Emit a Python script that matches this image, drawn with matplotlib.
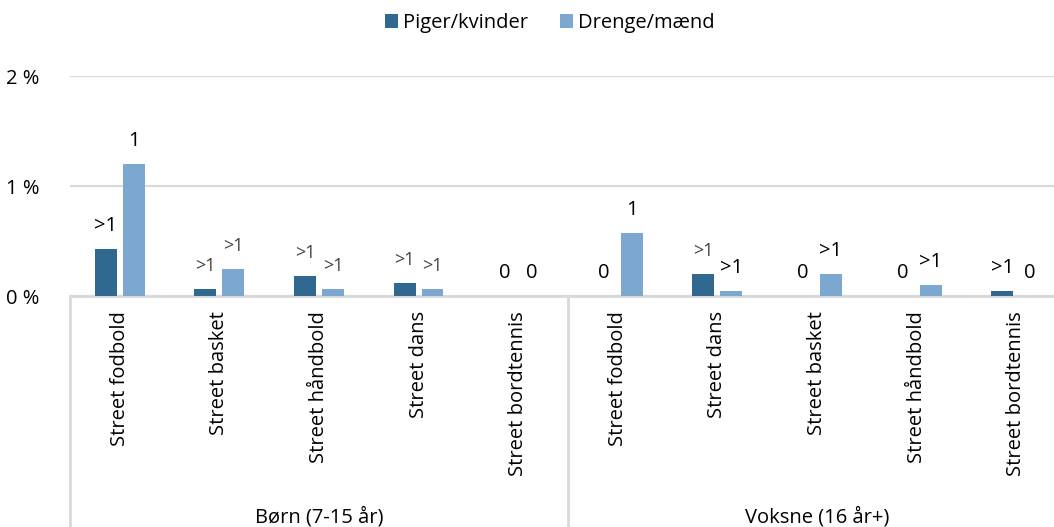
import matplotlib
matplotlib.use("Agg")
import matplotlib.pyplot as plt
from matplotlib.lines import Line2D
import numpy as np

plt.rcParams["font.family"] = ["Open Sans", "DejaVu Sans"]

# ── data ──────────────────────────────────────────────────────────────────────
GROUPS      = ["Børn (7-15 år)", "Voksne (16 år+)"]
CATS_BORN   = ["Street fodbold", "Street basket", "Street håndbold", "Street dans", "Street bordtennis"]
CATS_VOKSNE = ["Street fodbold", "Street dans", "Street basket", "Street håndbold", "Street bordtennis"]

PIGER  = [0.43, 0.06, 0.18, 0.12, 0.0,   0.0, 0.20, 0.0, 0.0, 0.05]
DRENGE = [1.20, 0.25, 0.06, 0.06, 0.0,   0.57, 0.05, 0.20, 0.10, 0.0]

PIGER_LBL  = [">1", ">1", ">1", ">1", "0",   "0", ">1", "0", "0", ">1"]
DRENGE_LBL = ["1", ">1", ">1", ">1", "0",    "1", ">1", ">1", ">1", "0"]
# True = label drawn in the larger black style, False = smaller grey style
PIGER_BIG  = [True, False, False, False, True,   True, False, True, True, True]
DRENGE_BIG = [True, False, False, False, True,   True, True, True, True, True]

YTICKS = [0, 1, 2]
YTICK_LBL = ["0 %", "1 %", "2 %"]

DARK  = "#31688F"
LIGHT = "#7BA7D0"
GRID  = "#D9D9D9"

# ── figure ────────────────────────────────────────────────────────────────────
W, H = 1054, 527
fig = plt.figure(figsize=(W / 100, H / 100), dpi=100)
ax_left, ax_right = 70, 1066          # plot area runs slightly past the image edge
ax_top, ax_bot = 76, 296
ax = fig.add_axes([ax_left / W, (H - ax_bot) / H,
                   (ax_right - ax_left) / W, (ax_bot - ax_top) / H])

cats = CATS_BORN + CATS_VOKSNE
x = np.arange(len(cats)) + 0.5
bw, off = 0.22, 0.14

ax.bar(x - off, PIGER, bw, color=DARK, zorder=3, label="Piger/kvinder")
ax.bar(x + off, DRENGE, bw, color=LIGHT, zorder=3, label="Drenge/mænd")

for xs, vals, lbls, bigs in [(x - off, PIGER, PIGER_LBL, PIGER_BIG),
                             (x + off, DRENGE, DRENGE_LBL, DRENGE_BIG)]:
    for xi, v, t, b in zip(xs, vals, lbls, bigs):
        ax.annotate(t, (xi, v), xytext=(0, 16.5), textcoords="offset points",
                    ha="center", va="center",
                    fontsize=14.5 if b else 13,
                    color="black" if b else "#404040")

ax.set_xlim(0, len(cats))
ax.set_ylim(0, 2)
ax.set_yticks(YTICKS)
ax.set_yticklabels(YTICK_LBL, fontsize=14.5)
ax.tick_params(axis="y", length=0, pad=22)
ax.yaxis.grid(True, color=GRID, linewidth=1.6, zorder=0)
ax.set_axisbelow(True)

ax.set_xticks(x)
ax.set_xticklabels(cats, rotation=90, fontsize=14.5, va="top")
ax.tick_params(axis="x", length=0, pad=11)

for s in ["top", "right", "left"]:
    ax.spines[s].set_visible(False)
ax.spines["bottom"].set_color(GRID)
ax.spines["bottom"].set_linewidth(2)

# group separators and labels below the axis
for px in [ax_left, ax_left + (ax_right - ax_left) / 2]:
    fig.add_artist(Line2D([px / W, px / W], [0, (H - ax_bot) / H],
                          color=GRID, linewidth=2))
grp_y = -(517 - ax_bot) / (ax_bot - ax_top)
for i, g in enumerate(GROUPS):
    ax.text(2.5 + 5 * i, grp_y, g, transform=ax.get_xaxis_transform(),
            ha="center", va="center", fontsize=14.5)

fig.legend(loc="center", bbox_to_anchor=(550 / W, 1 - 23 / H), ncol=2,
           frameon=False, fontsize=14.5, handlelength=0.65, handleheight=0.65,
           handletextpad=0.25, columnspacing=1.6)

fig.savefig("out.png", dpi=100)
